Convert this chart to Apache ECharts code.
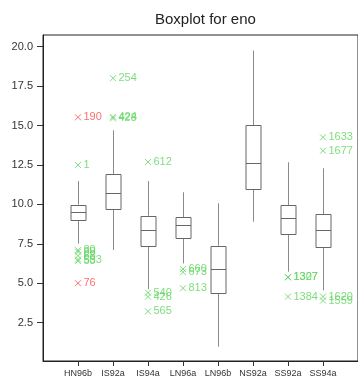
<!DOCTYPE html>
<html><head><meta charset="utf-8">
<script src="https://cdn.jsdelivr.net/npm/echarts@6/dist/echarts.min.js"></script>
<style>html,body{margin:0;padding:0;background:#fff}#c{width:358px;height:382px}</style>
</head><body><div id="c"></div>
<script>
const categories = ['HN96b','IS92a','IS94a','LN96a','LN96b','NS92a','SS92a','SS94a'];
const boxLow    = [7.51, 7.11, 4.63, 6.26, 0.98, 8.90, 5.73, 4.55];
const boxQ1     = [8.99, 9.69, 7.38, 7.89, 4.40, 10.98, 8.12, 7.28];
const boxMedian = [9.52, 10.72, 8.40, 8.69, 5.88, 12.61, 9.12, 8.38];
const boxQ3     = [9.98, 11.93, 9.28, 9.18, 7.38, 15.03, 9.96, 9.39];
const boxHigh   = [11.48, 14.70, 11.48, 10.77, 10.07, 19.75, 12.67, 12.29];

const greenCat   = ['HN96b','HN96b','HN96b','HN96b','HN96b','HN96b','IS92a','IS92a','IS92a','IS94a','IS94a','IS94a','IS94a','LN96a','LN96a','LN96a','SS92a','SS92a','SS92a','SS94a','SS94a','SS94a','SS94a'];
const greenVal   = [12.5, 7.1, 7.0, 6.75, 6.5, 6.4, 18.0, 15.55, 15.45, 12.69, 4.4, 4.15, 3.22, 5.9, 5.7, 4.68, 5.38, 5.38, 4.15, 14.25, 13.4, 4.15, 3.9];
const greenLabel = ['1','80','88','68','563','53','254','424','428','612','540','426','565','660','673','813','1307','1327','1384','1633','1677','1620','1559'];

const redCat   = ['HN96b','HN96b'];
const redVal   = [15.52, 5.0];
const redLabel = ['190','76'];

const yTicks = [2.5, 5.0, 7.5, 10.0, 12.5, 15.0, 17.5, 20.0];

const axisCats = [''].concat(categories, ['']);
const idx = c => categories.indexOf(c) + 1;
const boxData = categories.map((c, i) => [i + 1, boxLow[i], boxQ1[i], boxMedian[i], boxQ3[i], boxHigh[i]]);

const GREEN = '#5cd65c', RED = '#ff4a4a';
const crossPath = 'path://M0 0L10 10M10 0L0 10';

function outlierSeries(cats, vals, labels, color) {
  return {
    type: 'scatter',
    data: cats.map((c, i) => [idx(c), vals[i]]),
    symbol: crossPath,
    symbolSize: 6,
    itemStyle: { color: 'rgba(0,0,0,0)', borderColor: color, borderWidth: 1 },
    label: {
      show: true, position: 'right', distance: 2,
      formatter: p => labels[p.dataIndex],
      color: color, fontSize: 11, fontFamily: 'Liberation Sans'
    },
    emphasis: { disabled: true },
    z: 5
  };
}

const chart = echarts.init(document.getElementById('c'), null, { renderer: 'canvas' });
chart.setOption({
  animation: false,
  backgroundColor: '#fff',
  title: {
    text: 'Boxplot for eno', left: 150, top: 7,
    textStyle: { fontFamily: 'Liberation Sans', fontSize: 15, fontWeight: 'normal', color: '#222' }
  },
  grid: { left: 43, top: 35, width: 326, height: 326, show: true, borderColor: '#222', borderWidth: 1, containLabel: false },
  xAxis: {
    type: 'category', data: axisCats, boundaryGap: false,
    axisLine: { show: true, lineStyle: { color: '#222' } },
    axisTick: { show: true, length: 5, interval: (i) => i > 0 && i <= categories.length, lineStyle: { color: '#333' } },
    axisLabel: { interval: (i) => i > 0 && i <= categories.length, fontSize: 9, margin: 8, color: '#333', fontFamily: 'Liberation Sans' },
    splitLine: { show: false }
  },
  yAxis: {
    type: 'value', min: 0.07, max: 20.74,
    axisLine: { show: true, lineStyle: { color: '#222' } },
    axisTick: { show: true, length: 6, customValues: yTicks, lineStyle: { color: '#333' } },
    axisLabel: { customValues: yTicks, formatter: v => v.toFixed(1), fontSize: 11, margin: 10, color: '#333', fontFamily: 'Liberation Sans' },
    splitLine: { show: false }
  },
  series: [
    {
      type: 'custom',
      data: boxData,
      encode: { x: 0, y: [1, 2, 3, 4, 5] },
      renderItem: function (params, api) {
        const x = api.value(0);
        const pLo = api.coord([x, api.value(1)]);
        const pQ1 = api.coord([x, api.value(2)]);
        const pMd = api.coord([x, api.value(3)]);
        const pQ3 = api.coord([x, api.value(4)]);
        const pHi = api.coord([x, api.value(5)]);
        const cx = Math.round(pMd[0]) + 0.5;
        const hw = 7.5;
        const wStyle = { stroke: '#8a8a8a', lineWidth: 1 };
        const bStyle = { stroke: '#666', lineWidth: 1, fill: '#fff' };
        return {
          type: 'group',
          children: [
            { type: 'line', shape: { x1: cx, y1: pHi[1], x2: cx, y2: pQ3[1] }, style: wStyle },
            { type: 'line', shape: { x1: cx, y1: pQ1[1], x2: cx, y2: pLo[1] }, style: wStyle },
            { type: 'rect', shape: { x: cx - hw, y: Math.round(pQ3[1]) + 0.5, width: 2 * hw, height: Math.round(pQ1[1]) - Math.round(pQ3[1]) }, style: bStyle },
            { type: 'line', shape: { x1: cx - hw, y1: Math.round(pMd[1]) + 0.5, x2: cx + hw, y2: Math.round(pMd[1]) + 0.5 }, style: { stroke: '#666', lineWidth: 1 } }
          ]
        };
      },
      z: 3
    },
    outlierSeries(greenCat, greenVal, greenLabel, GREEN),
    outlierSeries(redCat, redVal, redLabel, RED)
  ]
});
</script>
</body></html>
